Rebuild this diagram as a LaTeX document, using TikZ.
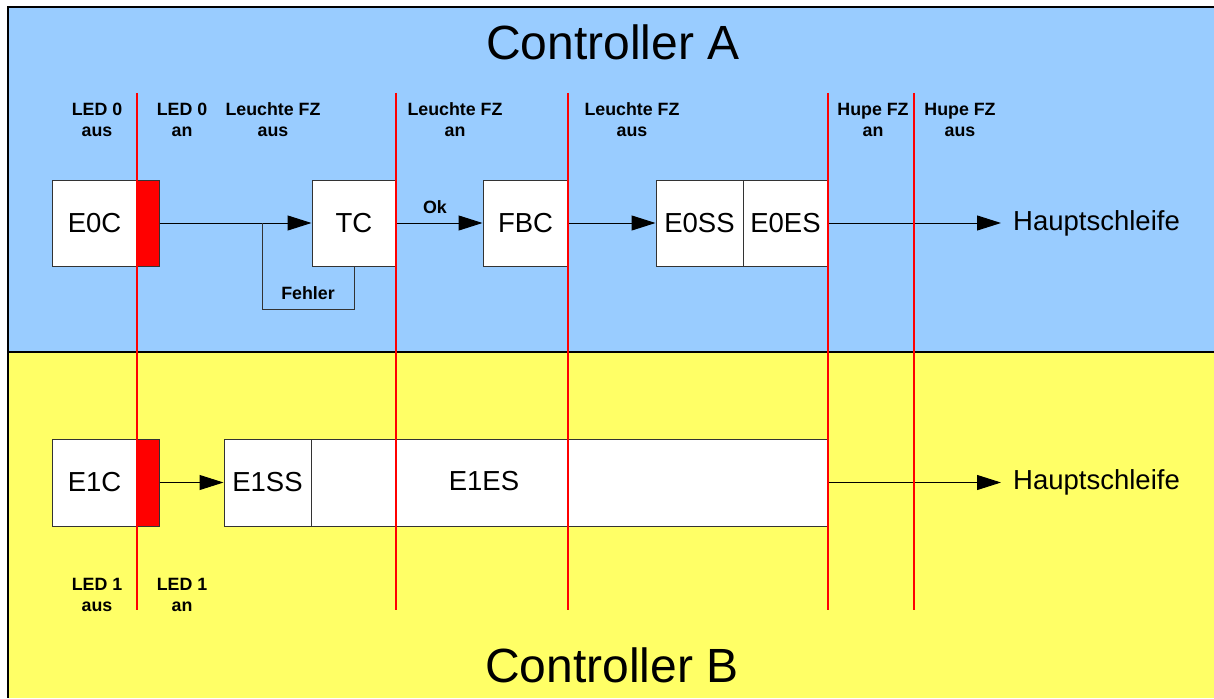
\documentclass[tikz,border=0pt]{standalone}
\usepackage{fontspec}
\setmainfont{Liberation Sans}
\usetikzlibrary{arrows.meta}
\definecolor{bgblue}{HTML}{99CCFF}
\definecolor{bgyellow}{HTML}{FFFF66}
\definecolor{edgegray}{HTML}{333333}
\tikzset{
  blk/.style={draw=edgegray, fill=white, line width=1pt, minimum height=86pt, inner sep=0pt,
    font=\fontsize{27.5}{31}\selectfont},
  redblk/.style={draw=edgegray, fill=red, line width=1pt, minimum height=86pt, minimum width=22pt, inner sep=0pt},
  lbl/.style={align=center, inner sep=0pt, font=\bfseries\fontsize{17.8}{21}\selectfont},
  big/.style={inner sep=0pt, font=\fontsize{27.5}{31}\selectfont},
  title/.style={inner sep=0pt, font=\fontsize{48}{52}\selectfont},
  arr/.style={draw=black, line width=1pt, -{Triangle[length=24pt,width=15pt]}},
  conn/.style={draw=edgegray, line width=1pt},
  redline/.style={draw=red, line width=2.3pt}
}
\begin{document}
\begin{tikzpicture}[x=1pt,y=-1pt]
\useasboundingbox (0,0) rectangle (1214,698);
% backgrounds
\fill[bgblue] (8,7) rectangle (1214,352);
\fill[bgyellow] (8,352) rectangle (1214,698);
\draw[line width=1.6pt] (1214,7) -- (8,7) -- (8,698);
\draw[line width=1.4pt] (8,352) -- (1214,352);

% titles
\node[title] (ta) at (613,42) {Controller A};
\node[title] (tb) at (612,665) {Controller B};

% top row
\node[blk, minimum width=85pt] (e0c) at (94.5,223) {E0C};
\node[redblk] (e0cr) at (148,223) {};
\node[blk, minimum width=84pt] (tc) at (354,223) {TC};
\node[blk, minimum width=85pt] (fbc) at (525.5,223) {FBC};
\node[blk, minimum width=87pt] (e0ss) at (699.5,223) {E0SS};
\node[blk, minimum width=85pt] (e0es) at (785.5,223) {E0ES};
\node[big, anchor=west] (h0) at (1013,223) {Hauptschleife};

\coordinate (fj) at (262,223);
\draw[arr] (e0cr.east) -- (tc.west);
\draw[conn] (tc.south) |- (262,309) -- (fj);
\node[lbl] (fehler) at (308,293) {Fehler};
\draw[arr] (tc.east) -- (fbc.west);
\node[lbl] (ok) at (435,207) {Ok};
\draw[arr] (fbc.east) -- (e0ss.west);
\draw[arr] (e0es.east) -- ([xshift=-12pt]h0.west);

% bottom row
\node[blk, minimum width=85pt, minimum height=87pt] (e1c) at (94.5,482.5) {E1C};
\node[redblk, minimum height=87pt] (e1cr) at (148,482.5) {};
\node[blk, minimum width=87pt, minimum height=87pt] (e1ss) at (267.5,482.5) {E1SS};
\node[blk, minimum width=517pt, minimum height=87pt] (e1es) at (569.5,482.5) {};
\node[big] (e1eslbl) at (484,481) {E1ES};
\node[big, anchor=west] (h1) at (1013,482.5) {Hauptschleife};
\draw[arr] (e1cr.east) -- (e1ss.west);
\draw[arr] (e1es.east) -- ([xshift=-12pt]h1.west);

% red state lines
\foreach \xx in {137,396,568,828,914} {
  \draw[redline] (\xx,93) -- (\xx,610);
}

% state labels top
\node[lbl] (l1) at (97,119.5) {LED 0\\aus};
\node[lbl] (l2) at (182,119.5) {LED 0\\an};
\node[lbl] (l3) at (273,119.5) {Leuchte FZ\\aus};
\node[lbl] (l4) at (455,119.5) {Leuchte FZ\\an};
\node[lbl] (l5) at (632,119.5) {Leuchte FZ\\aus};
\node[lbl] (l6) at (873,119.5) {Hupe FZ\\an};
\node[lbl] (l7) at (960,119.5) {Hupe FZ\\aus};

% state labels bottom
\node[lbl] (l8) at (97,595) {LED 1\\aus};
\node[lbl] (l9) at (182,595) {LED 1\\an};
\end{tikzpicture}
\end{document}
